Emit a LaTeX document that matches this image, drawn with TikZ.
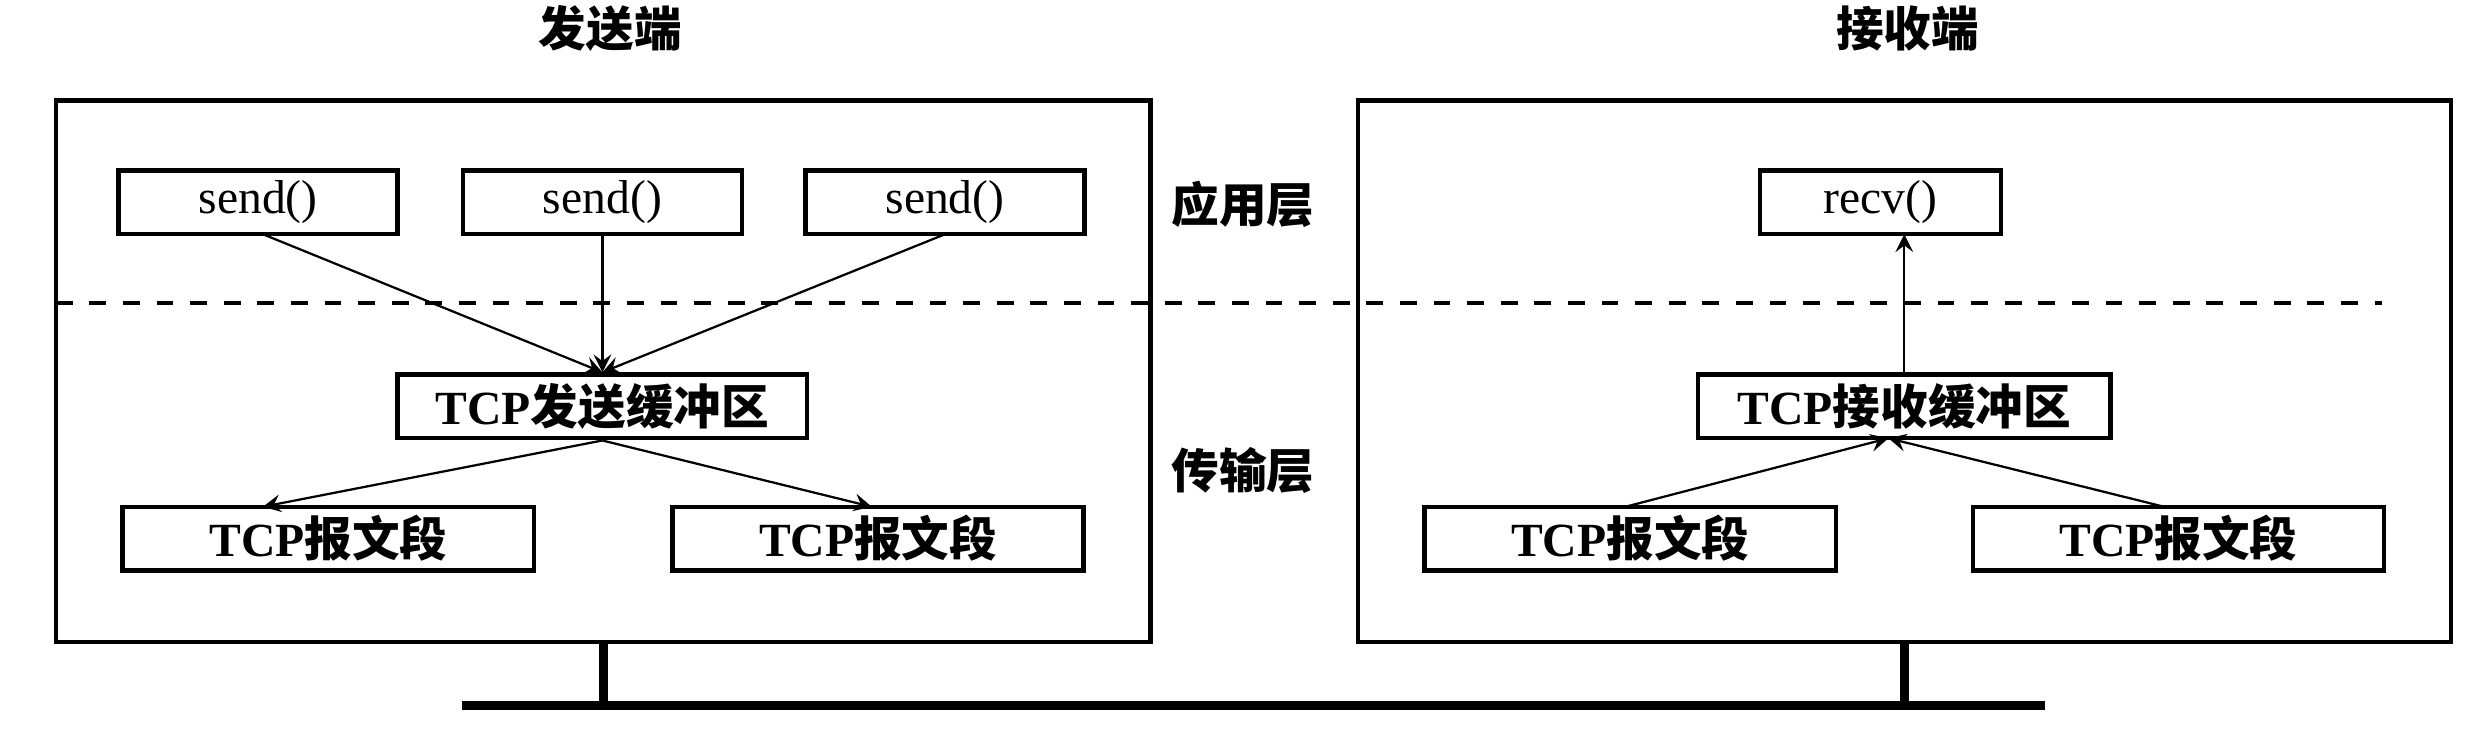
\documentclass[tikz,border=0pt]{standalone}
\usepackage{fontspec}
\setmainfont{Liberation Serif}
\newfontfamily\cjk{Noto Sans CJK SC}
\usetikzlibrary{positioning}
\begin{document}
\begin{tikzpicture}[x=0.1mm,y=-0.1mm,font=\fontsize{8.5}{10}\selectfont,
    bx/.style={draw,thick,inner sep=0pt,minimum height=4mm},
    lbl/.style={font=\fontsize{8.5}{10}\selectfont\cjk\bfseries},
    arr/.style={->,>=stealth}]
    \useasboundingbox (0,0) rectangle (1560,465);
    % hosts
    \draw[thick] (35,63) rectangle (722,403);
    \draw[thick] (852,63) rectangle (1538,403);
    \node[lbl] (snd) at (383,18) {发送端};
    \node[lbl] (rcv) at (1197,18) {接收端};
    \node[lbl] (app) at (780,128) {应用层};
    \node[lbl] (trn) at (780,295) {传输层};
    \draw[thick,dashed] (35,190) -- (1495,190);
    % sender
    \foreach \n/\x in {s1/162,s2/378,s3/593}
      \node[bx,minimum width=17.5mm] (\n) at (\x,127) {send()};
    \node[bx,minimum width=25.7mm] (sbuf) at (378,255) {\textbf{TCP}{\cjk\bfseries 发送缓冲区}};
    \node[bx,minimum width=25.8mm] (sa) at (206,338) {\textbf{TCP}{\cjk\bfseries 报文段}};
    \node[bx,minimum width=25.8mm] (sb) at (551,338) {\textbf{TCP}{\cjk\bfseries 报文段}};
    \draw[arr] (165,147) -- (sbuf.north);
    \draw[arr] (s2) -- (sbuf.north);
    \draw[arr] (593,147) -- (sbuf.north);
    \draw[arr] (sbuf.south) -- (165,318);
    \draw[arr] (sbuf.south) -- (547,318);
    % receiver
    \node[bx,minimum width=15.1mm] (r1) at (1180,127) {recv()};
    \node[bx,minimum width=25.9mm] (rbuf) at (1195,255) {\textbf{TCP}{\cjk\bfseries 接收缓冲区}};
    \node[bx,minimum width=25.8mm] (ra) at (1023,338) {\textbf{TCP}{\cjk\bfseries 报文段}};
    \node[bx,minimum width=25.8mm] (rb) at (1367,338) {\textbf{TCP}{\cjk\bfseries 报文段}};
    \draw[arr] (rbuf.north) -- (1195,147);
    \draw[arr] (1020,318) -- (1185,275);
    \draw[arr] (1358,318) -- (1185,275);
    % network
    \draw[line width=1.6pt] (290,443) -- (1283,443);
    \draw[line width=1.6pt] (379,403) -- (379,443);
    \draw[line width=1.6pt] (1195,403) -- (1195,443);
\end{tikzpicture}
\end{document}
